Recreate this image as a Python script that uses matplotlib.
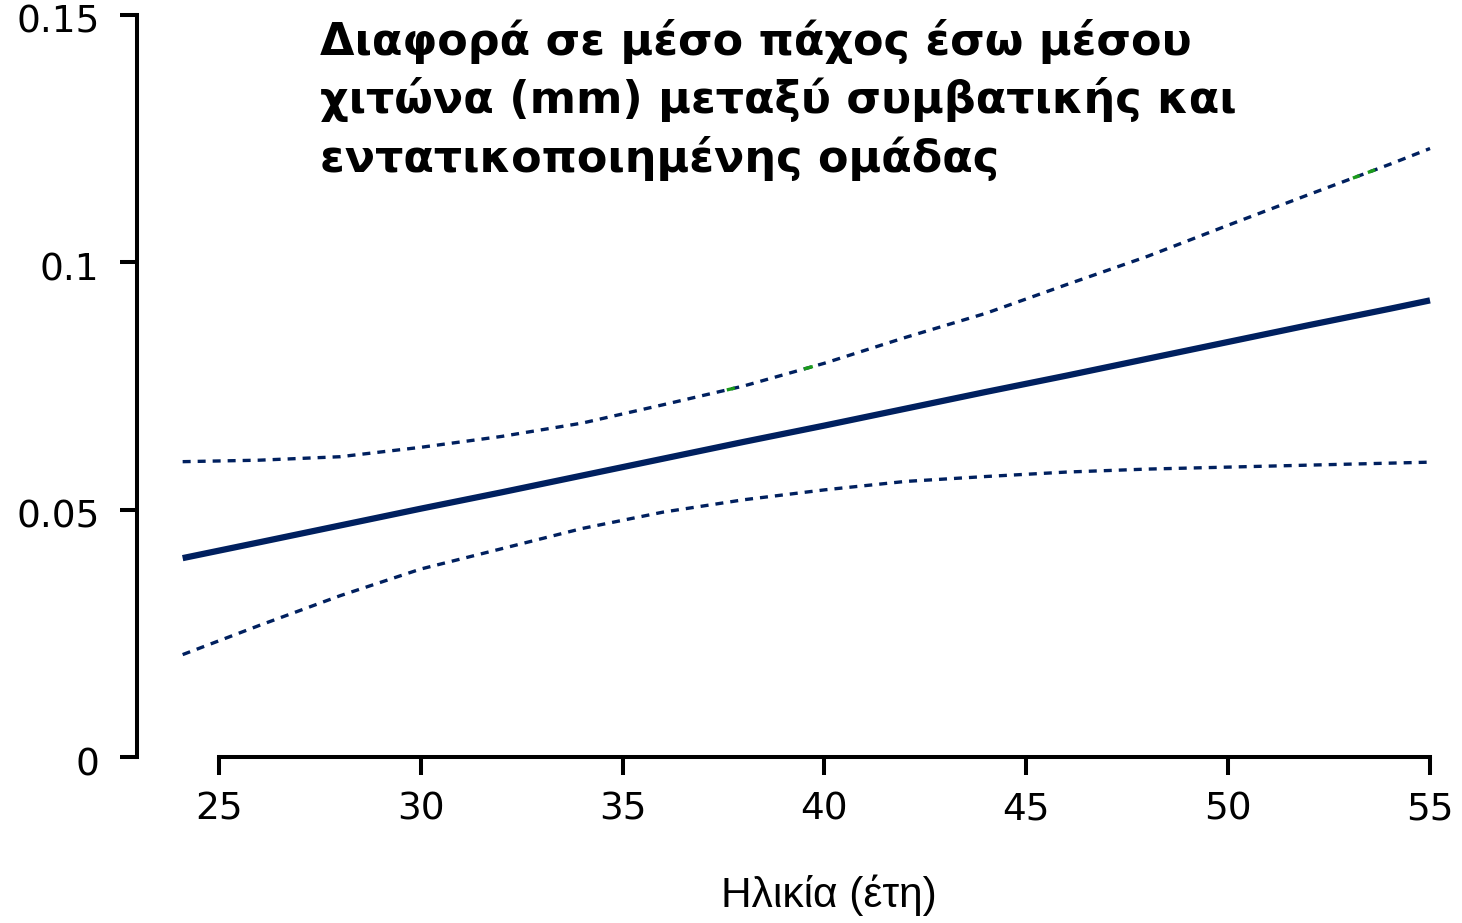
import matplotlib
matplotlib.use("Agg")
import matplotlib.pyplot as plt
import matplotlib.transforms as mtransforms
import numpy as np

# ---- data ----
age = [24.1, 26, 28, 30, 32, 34, 36, 38, 40, 42, 44, 46, 48, 50, 52, 54, 55]
diff = [0.0402, 0.0434, 0.0468, 0.0502, 0.0535, 0.0569, 0.0603, 0.0637, 0.0670,
        0.0704, 0.0738, 0.0771, 0.0805, 0.0839, 0.0873, 0.0906, 0.0923]
upper = [0.0597, 0.0600, 0.0607, 0.0626, 0.0648, 0.0675, 0.0712, 0.0750, 0.0796,
         0.0848, 0.0897, 0.0955, 0.1012, 0.1075, 0.1137, 0.1198, 0.1230]
lower = [0.0207, 0.0266, 0.0326, 0.0380, 0.0421, 0.0462, 0.0495, 0.0520, 0.0540,
         0.0557, 0.0567, 0.0576, 0.0582, 0.0586, 0.0590, 0.0594, 0.0596]
# short green-coloured pieces of the upper band line
green_ranges = [(37.58, 37.78), (39.49, 39.71), (53.09, 53.26), (53.46, 53.64)]

xticks = [25, 30, 35, 40, 45, 50, 55]
yticks = [0, 0.05, 0.1, 0.15]
ytick_labels = ["0", "0.05", "0.1", "0.15"]
title = "Διαφορά σε μέσο πάχος έσω μέσου\nχιτώνα (mm) μεταξύ συμβατικής και\nεντατικοποιημένης ομάδας"
xlabel = "Ηλικία (έτη)"

navy = "#00205f"
green = "#1a9a1a"

W, H = 1462, 923
fig = plt.figure(figsize=(W / 100, H / 100), dpi=100)
ax = fig.add_axes([137 / W, (H - 757) / H, (1442 - 137) / W, 0.812])

dash = (0, (2.4, 2.1))
ax.plot(age, upper, color=navy, lw=2.4, ls=dash)
ax.plot(age, lower, color=navy, lw=2.4, ls=dash)
ax.plot(age, diff, color=navy, lw=4.5, solid_capstyle="butt")
for a, b in green_ranges:
    xs = np.linspace(a, b, 5)
    ax.plot(xs, np.interp(xs, age, upper), color=green, lw=2.4, solid_capstyle="butt")

ax.set_xlim(22.969, 55.297)
ax.set_ylim(0, 0.1515)

for s in ["top", "right"]:
    ax.spines[s].set_visible(False)
ax.spines["left"].set_bounds(0, 0.15)
ax.spines["bottom"].set_bounds(25, 55)
ax.spines["left"].set_linewidth(2.9)
ax.spines["bottom"].set_linewidth(2.9)
ax.spines["left"].set_capstyle("projecting")
ax.spines["bottom"].set_capstyle("projecting")

ax.set_xticks(xticks)
ax.set_xticklabels([str(t) for t in xticks])
ax.set_yticks(yticks)
ax.set_yticklabels(ytick_labels)
ax.tick_params(axis="y", length=12, width=2.9, pad=15, labelsize=27, direction="out")
ax.tick_params(axis="x", length=13, width=2.9, pad=12, labelsize=27, direction="out")
for lab in ax.get_xticklabels() + ax.get_yticklabels():
    lab.set_fontfamily("DejaVu Sans")
# labels sit slightly below their ticks in the reference
offset = mtransforms.ScaledTranslation(0, -4 / 100, fig.dpi_scale_trans)
for lab in ax.get_yticklabels():
    lab.set_transform(lab.get_transform() + offset)

ax.text(27.5, 0.1492, title, fontsize=32, fontweight="bold", family="DejaVu Sans",
        ha="left", va="top", linespacing=1.37)

trans = mtransforms.blended_transform_factory(ax.transData, fig.transFigure)
ax.text(40.1, (H - 907) / H, xlabel, transform=trans, ha="center", va="baseline",
        fontsize=30.5, family="Liberation Sans")

fig.savefig("out.png", dpi=100)
